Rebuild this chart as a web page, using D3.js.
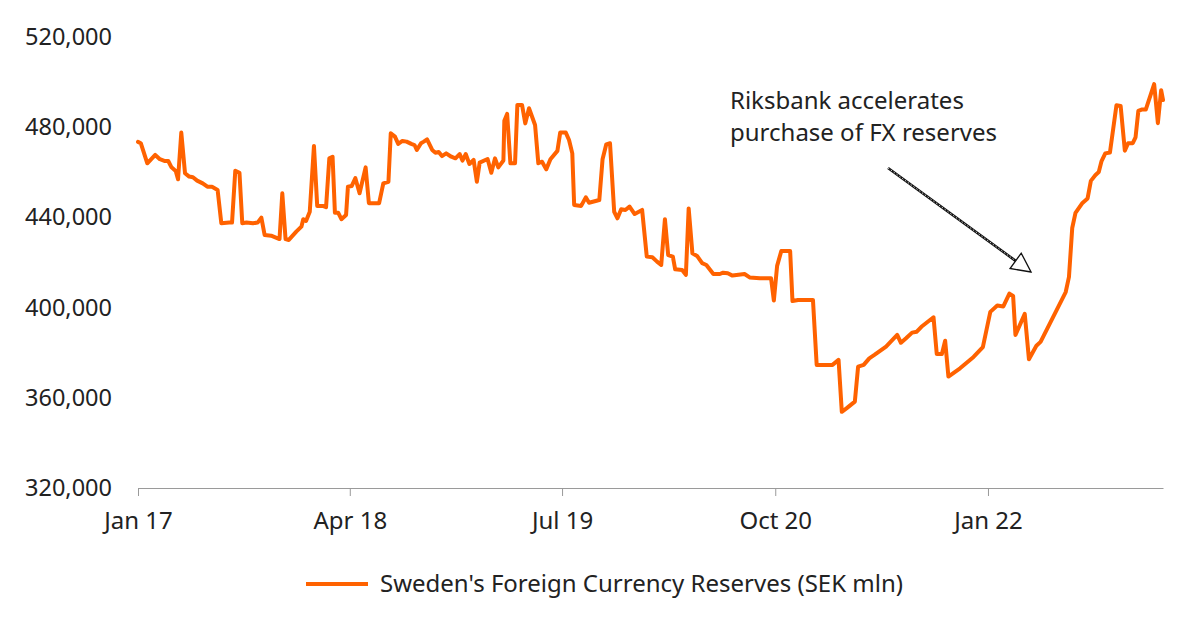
<!DOCTYPE html>
<html>
<head>
<meta charset="utf-8">
<script src="https://cdn.jsdelivr.net/npm/d3@7"></script>
<style>
  html, body { margin: 0; padding: 0; background: #fff; }
  svg { display: block; }
  text { font-family: "Noto Sans", "Open Sans", sans-serif; fill: #222; }
</style>
</head>
<body>
<svg id="chart" width="1200" height="632"></svg>
<script>
const dates = [
"2017-01-01","2017-01-07","2017-01-21","2017-02-07","2017-02-17","2017-02-28","2017-03-07","2017-03-14","2017-03-23","2017-03-28",
"2017-04-04","2017-04-12","2017-04-21","2017-04-29","2017-05-08","2017-05-20","2017-05-30","2017-06-09","2017-06-21","2017-06-29",
"2017-07-16","2017-07-22","2017-07-29","2017-08-07","2017-08-13","2017-08-22","2017-09-05","2017-09-15","2017-09-23","2017-09-30",
"2017-10-14","2017-11-01","2017-11-07","2017-11-14","2017-11-21","2017-12-07","2017-12-18","2017-12-22","2017-12-28","2018-01-05",
"2018-01-14","2018-01-21","2018-02-02","2018-02-09","2018-02-16","2018-02-23","2018-02-28","2018-03-07","2018-03-14","2018-03-24",
"2018-03-28","2018-04-05","2018-04-13","2018-04-22","2018-05-05","2018-05-12","2018-06-03","2018-06-12","2018-06-23","2018-06-28",
"2018-07-07","2018-07-14","2018-07-23","2018-08-01","2018-08-11","2018-08-18","2018-08-23","2018-09-01","2018-09-07","2018-09-14",
"2018-09-25","2018-10-02","2018-10-09","2018-10-16","2018-10-25","2018-11-05","2018-11-14","2018-11-23","2018-11-29","2018-12-06",
"2018-12-14","2018-12-23","2018-12-30","2019-01-05","2019-01-22","2019-01-30","2019-02-07","2019-02-14","2019-02-25","2019-02-27",
"2019-03-05","2019-03-12","2019-03-22","2019-03-27","2019-04-06","2019-04-13","2019-04-21","2019-05-04","2019-05-11","2019-05-19",
"2019-05-28","2019-06-06","2019-06-21","2019-06-27","2019-07-09","2019-07-16","2019-07-23","2019-07-27","2019-08-11","2019-08-21",
"2019-08-28","2019-09-19","2019-09-26","2019-10-04","2019-10-12","2019-10-21","2019-10-28","2019-11-05","2019-11-14","2019-11-23",
"2019-12-04","2019-12-20","2019-12-30","2020-01-11","2020-01-21","2020-01-30","2020-02-07","2020-02-14","2020-02-24","2020-02-29",
"2020-03-15","2020-03-23","2020-03-29","2020-04-06","2020-04-16","2020-04-27","2020-05-06","2020-05-21","2020-06-04","2020-06-11",
"2020-06-21","2020-07-01","2020-07-27","2020-08-07","2020-08-29","2020-09-22","2020-09-28","2020-10-05","2020-10-14","2020-11-02",
"2020-11-07","2020-11-19","2020-12-21","2020-12-29","2021-02-01","2021-02-14","2021-02-21","2021-03-03","2021-03-21","2021-03-28",
"2021-04-09","2021-04-21","2021-05-02","2021-05-27","2021-06-20","2021-06-28","2021-07-09","2021-07-22","2021-08-01","2021-08-11",
"2021-09-06","2021-09-13","2021-09-24","2021-10-01","2021-10-08","2021-11-02","2021-12-01","2021-12-21","2022-01-06","2022-01-21",
"2022-02-03","2022-02-16","2022-02-24","2022-03-01","2022-03-21","2022-03-30","2022-04-15","2022-04-24","2022-06-17","2022-06-24",
"2022-07-01","2022-07-08","2022-07-23","2022-08-03","2022-08-10","2022-08-20","2022-08-27","2022-09-02","2022-09-10","2022-09-20",
"2022-10-04","2022-10-13","2022-10-22","2022-10-29","2022-11-08","2022-11-14","2022-11-20","2022-11-27","2022-12-06","2022-12-24",
"2023-01-01","2023-01-08","2023-01-12"
];
const reserves = [
473500,472900,464000,467700,465800,465000,465000,462200,460600,456900,
477600,459600,458100,457800,456300,455100,453600,453600,452200,437400,
437700,437700,460700,459800,437400,437700,437400,437700,439900,432200,
431900,430400,450700,430400,430000,433700,435900,439200,438400,442500,
471700,445100,445100,444500,466200,466900,442100,442100,439200,441100,
453600,453900,457400,450700,462200,446300,446300,455100,455800,477300,
475800,472600,473900,473600,472600,472100,469900,472900,473600,474600,
469900,468700,469000,467200,468400,466900,466200,468100,465200,468100,
463700,465500,455800,464300,465900,459800,466200,462200,465200,482900,
485900,464000,464000,489900,489900,481700,488400,481000,464000,464700,
461300,465800,469500,477600,477600,474300,468400,445500,445100,448900,
446500,447700,465800,472400,472900,442500,439600,443600,443300,444800,
441500,443300,422600,422300,420400,418900,439200,423300,422600,417000,
416700,414500,444000,424100,422900,419700,418900,414900,414900,415500,
415200,414200,414900,413400,413000,413000,403100,418500,425100,425100,
402900,403400,403400,374600,374600,376800,353800,355300,358300,373800,
374600,377500,379000,382700,387900,384400,386400,388900,389300,391500,
395700,379400,379400,385300,369400,373100,378100,382500,398100,400900,
400500,406200,405200,387900,397200,377100,383100,384800,406900,413600,
435300,442000,446400,448400,456200,458800,460100,465000,468400,468800,
489700,489400,469600,472900,472900,475500,487200,487800,487800,499100,
481800,496400,492100
];
const yTicks = [320000, 360000, 400000, 440000, 480000, 520000];
const xTickDates = ["2017-01-01", "2018-04-01", "2019-07-01", "2020-10-01", "2022-01-01"];
const xTickLabels = ["Jan 17", "Apr 18", "Jul 19", "Oct 20", "Jan 22"];
const seriesName = "Sweden's Foreign Currency Reserves (SEK mln)";
const annotation = ["Riksbank accelerates", "purchase of FX reserves"];

const parse = d3.utcParse("%Y-%m-%d");
const data = dates.map((d, i) => ({ date: parse(d), value: reserves[i] }));

const svg = d3.select("#chart");
const orange = "#FF6200";
const fontSize = "24px";

const x = d3.scaleUtc()
  .domain([parse("2017-01-01"), parse("2023-01-12")])
  .range([138, 1163]);
const y = d3.scaleLinear()
  .domain([320000, 520000])
  .range([488, 37]);

// Y axis labels (no axis line)
const fmt = d3.format(",");
const yAxis = d3.axisLeft(y).tickValues(yTicks).tickFormat(fmt).tickSize(0).tickPadding(0);
const gy = svg.append("g").attr("transform", "translate(112,0)").call(yAxis);
gy.select(".domain").remove();
gy.selectAll("text")
  .attr("fill", "#222")
  .style("font-size", "23.5px")
  .style("font-family", "'Noto Sans', sans-serif");

// X axis
const xAxis = d3.axisBottom(x)
  .tickValues(xTickDates.map(parse))
  .tickFormat((d, i) => xTickLabels[i])
  .tickSizeInner(8).tickSizeOuter(0).tickPadding(16);
const gx = svg.append("g").attr("transform", "translate(0,488)").call(xAxis);
gx.select(".domain").attr("stroke", "#9a9a9a").attr("stroke-width", 1);
gx.selectAll(".tick line").attr("stroke", "#9a9a9a");
gx.selectAll("text")
  .attr("fill", "#222")
  .style("font-size", fontSize)
  .style("font-family", "'Noto Sans', sans-serif");

// Line
const line = d3.line().x(d => x(d.date)).y(d => y(d.value));
svg.append("path")
  .datum(data)
  .attr("d", line)
  .attr("fill", "none")
  .attr("stroke", orange)
  .attr("stroke-width", 4)
  .attr("stroke-linejoin", "round")
  .attr("stroke-linecap", "round");

// Annotation text
const ann = svg.append("text")
  .attr("x", 730)
  .attr("y", 109)
  .style("font-size", fontSize);
annotation.forEach((t, i) => {
  ann.append("tspan").attr("x", 730).attr("dy", i === 0 ? 0 : 32).text(t);
});

// Arrow
const x0 = 888, y0 = 168, tipX = 1031, tipY = 272;
const ang = Math.atan2(tipY - y0, tipX - x0);
const headLen = 19, headHalf = 9.5;
const bx = tipX - headLen * Math.cos(ang), by = tipY - headLen * Math.sin(ang);
svg.append("line")
  .attr("x1", x0).attr("y1", y0).attr("x2", bx).attr("y2", by)
  .attr("stroke", "#111").attr("stroke-width", 2.6);
svg.append("line")
  .attr("x1", x0).attr("y1", y0).attr("x2", bx).attr("y2", by)
  .attr("stroke", "#fff").attr("stroke-width", 0.8).attr("stroke-dasharray", "1.5,2");
const px = -Math.sin(ang), py = Math.cos(ang);
svg.append("path")
  .attr("d", `M${tipX},${tipY} L${bx + px * headHalf},${by + py * headHalf} L${bx - px * headHalf},${by - py * headHalf} Z`)
  .attr("fill", "#fff").attr("stroke", "#111").attr("stroke-width", 1.3);

// Legend
const lg = svg.append("g").attr("transform", "translate(0,584)");
lg.append("line").attr("x1", 306).attr("x2", 368).attr("y1", 0).attr("y2", 0)
  .attr("stroke", orange).attr("stroke-width", 4);
lg.append("text").attr("x", 380).attr("y", 0).attr("dy", "0.35em")
  .style("font-size", fontSize).text(seriesName);
</script>
</body>
</html>
